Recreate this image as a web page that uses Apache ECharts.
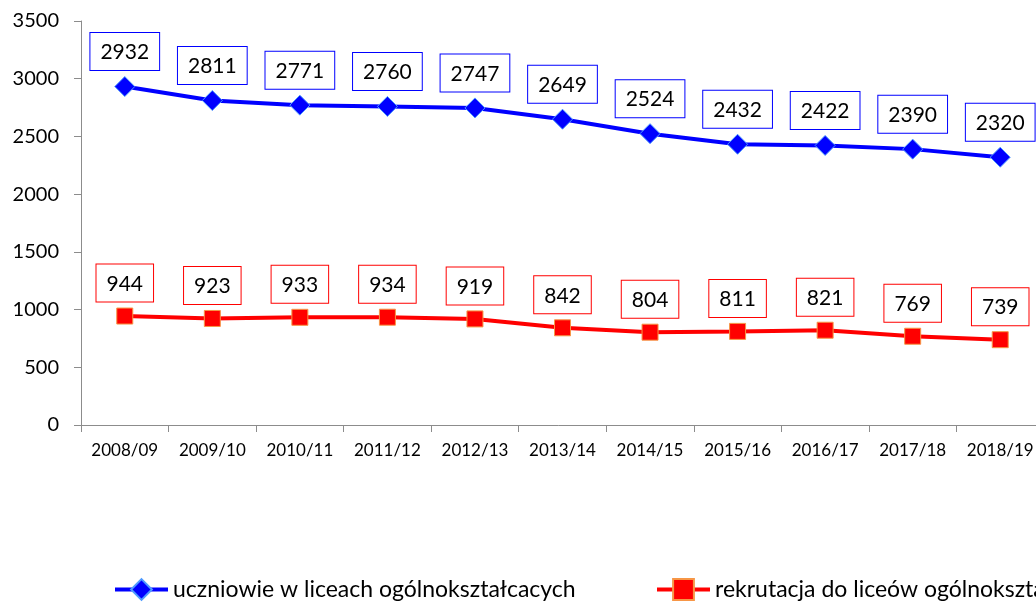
<!DOCTYPE html>
<html>
<head>
<meta charset="utf-8">
<script src="https://cdn.jsdelivr.net/npm/echarts@6/dist/echarts.min.js"></script>
<style>
  html, body { margin: 0; padding: 0; background: #fff; }
  #chart { width: 1036px; height: 602px; }
</style>
</head>
<body>
<div id="chart"></div>
<script>
const years = ["2008/09", "2009/10", "2010/11", "2011/12", "2012/13", "2013/14",
  "2014/15", "2015/16", "2016/17", "2017/18", "2018/19"];
const students = [2932, 2811, 2771, 2760, 2747, 2649, 2524, 2432, 2422, 2390, 2320];
const recruits = [944, 923, 933, 934, 919, 842, 804, 811, 821, 769, 739];
const nameStudents = "uczniowie w liceach ogólnokształcacych";
const nameRecruits = "rekrutacja do liceów ogólnokształcących";

const font = "Lato, 'Open Sans', sans-serif";

function boxLabel(color, dist) {
  return {
    show: true,
    position: "top",
    distance: dist,
    color: "#000",
    fontFamily: font,
    fontSize: 21,
    backgroundColor: "#fff",
    borderColor: color,
    borderWidth: 1,
    padding: [9, 10, 7, 10],
  };
}

const legendBase = {
  top: 573,
  itemWidth: 53,
  itemHeight: 26,
  itemGap: 0,
  lineStyle: { width: 4 },
  textStyle: { fontFamily: font, fontSize: 23, color: "#000" },
};

const chart = echarts.init(document.getElementById("chart"));
chart.setOption({
  animation: false,
  grid: { left: 81, right: -8, top: 21, bottom: 177, outerBoundsMode: "none" },
  legend: [
    Object.assign({ data: [nameStudents], left: 108 }, legendBase),
    Object.assign({ data: [nameRecruits], left: 650 }, legendBase),
  ],
  xAxis: {
    type: "category",
    data: years,
    boundaryGap: true,
    axisLine: { lineStyle: { color: "#8c8c8c", width: 1 } },
    axisTick: { show: true, length: 7, lineStyle: { color: "#8c8c8c" } },
    axisLabel: { color: "#000", fontFamily: font, fontSize: 17, margin: 17 },
    splitLine: { show: false },
  },
  yAxis: {
    type: "value",
    min: 0,
    max: 3500,
    interval: 500,
    axisLine: { show: true, lineStyle: { color: "#8c8c8c", width: 1 } },
    axisTick: { show: true, length: 7, lineStyle: { color: "#8c8c8c" } },
    axisLabel: {
      color: "#000", fontFamily: font, fontSize: 20, margin: 22,
      formatter: (v) => String(v),
    },
    splitLine: { show: false },
  },
  series: [
    {
      name: nameStudents,
      type: "line",
      data: students,
      symbol: "diamond",
      symbolSize: 20,
      lineStyle: { color: "#0000ff", width: 4 },
      itemStyle: { color: "#0000ff", borderColor: "#4f9bff", borderWidth: 1 },
      label: boxLabel("#0000ff", 6),
    },
    {
      name: nameRecruits,
      type: "line",
      data: recruits,
      symbol: "rect",
      symbolSize: 16,
      lineStyle: { color: "#ff0000", width: 4 },
      itemStyle: { color: "#ff0000", borderColor: "#f79646", borderWidth: 1 },
      label: boxLabel("#ff0000", 6),
    },
  ],
});
</script>
</body>
</html>
